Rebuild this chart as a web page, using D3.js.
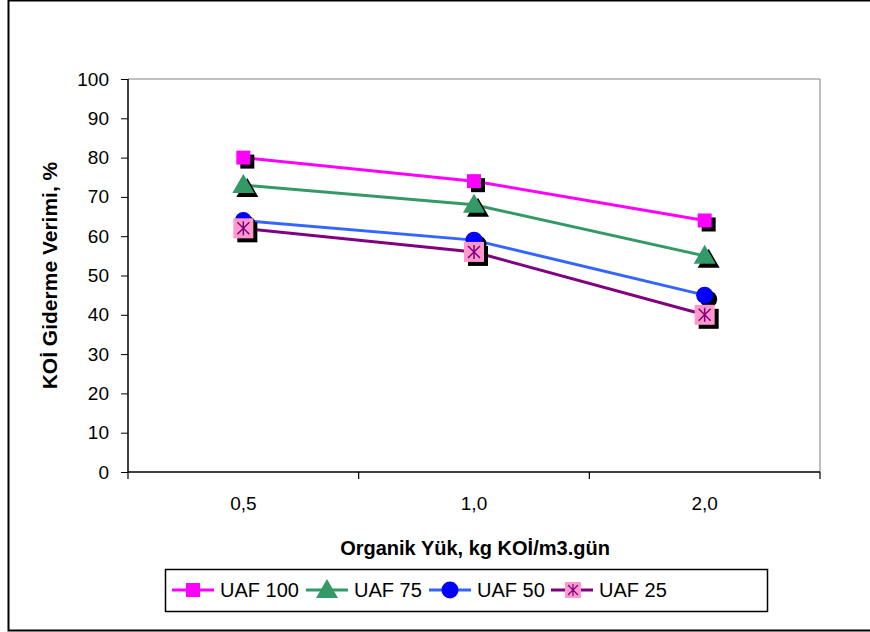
<!DOCTYPE html>
<html>
<head>
<meta charset="utf-8">
<script src="https://cdn.jsdelivr.net/npm/d3@7"></script>
<style>
body { margin:0; background:#fff; }
text { font-family: Arial, "Liberation Sans", sans-serif; }
</style>
</head>
<body>
<script>
var categories = ["0,5", "1,0", "2,0"];
var yTicks = [0, 10, 20, 30, 40, 50, 60, 70, 80, 90, 100];
var seriesNames = ["UAF 100", "UAF 75", "UAF 50", "UAF 25"];
var uaf100 = [80, 74, 64];
var uaf75 = [73, 68, 55];
var uaf50 = [64, 59, 45];
var uaf25 = [62, 56, 40];

var seriesVals = [uaf100, uaf75, uaf50, uaf25];
var colors = ["#ff00ff", "#339966", "#3366ff", "#800080"];
var markerFill = ["#ff00ff", "#339966", "#0000ff", "#ff99cc"];
var shapes = ["square", "triangle", "circle", "star"];

var svg = d3.select("body").append("svg").attr("width", 870).attr("height", 632);

// outer frame
svg.append("rect").attr("x", 8.5).attr("y", 0.5).attr("width", 880).attr("height", 630)
 .attr("fill", "#fff").attr("stroke", "#000").attr("stroke-width", 2);

var pLeft = 128, pRight = 820, pTop = 79, pBottom = 472;

var x = d3.scaleBand().domain(categories).range([pLeft, pRight]);
var y = d3.scaleLinear().domain([0, 100]).range([pBottom, pTop]);

// plot area border (grey, top and right)
svg.append("path").attr("d", "M" + pLeft + "," + pTop + "H" + pRight + "V" + pBottom)
 .attr("fill", "none").attr("stroke", "#808080").attr("stroke-width", 1);

// y axis
var yAxis = svg.append("g").attr("transform", "translate(" + pLeft + ",0)")
 .call(d3.axisLeft(y).tickValues(yTicks).tickSize(7).tickPadding(12));
yAxis.attr("font-size", 19).attr("font-family", "Arial, 'Liberation Sans', sans-serif");
yAxis.select(".domain").attr("stroke", "#000").attr("stroke-width", 1.5).attr("d", "M0," + pTop + "V" + pBottom);
yAxis.selectAll(".tick line").attr("stroke", "#000");
yAxis.selectAll("text").attr("fill", "#000");

// x axis
var xAxis = svg.append("g").attr("transform", "translate(0," + pBottom + ")")
 .call(d3.axisBottom(x).tickSize(0).tickPadding(25));
xAxis.attr("font-size", 19).attr("font-family", "Arial, 'Liberation Sans', sans-serif");
xAxis.select(".domain").attr("stroke", "#000").attr("stroke-width", 1.5).attr("d", "M" + pLeft + ",0H" + pRight);
xAxis.selectAll("text").attr("fill", "#000");
// category boundary ticks
var bounds = categories.map(function(c) { return x(c); }).concat([pRight]);
xAxis.selectAll(".bt").data(bounds).enter().append("line")
 .attr("x1", function(d) { return d; }).attr("x2", function(d) { return d; })
 .attr("y1", 0).attr("y2", 7).attr("stroke", "#000").attr("stroke-width", 1.2);

// axis titles
svg.append("text").attr("transform", "translate(57," + ((pTop + pBottom) / 2) + ") rotate(-90)")
 .attr("text-anchor", "middle").attr("font-size", 21).attr("font-weight", "bold").text("KOİ Giderme Verimi, %");
svg.append("text").attr("x", 475).attr("y", 555)
 .attr("text-anchor", "middle").attr("font-size", 20).attr("font-weight", "bold").text("Organik Yük, kg KOİ/m3.gün");

function cx(i) { return x(categories[i]) + x.bandwidth() / 2; }

function drawMarker(g, shape, px, py, k, shadow) {
 var fill = shadow ? "#000" : markerFill[k];
 if (shape == "square") {
  g.append("rect").attr("x", px - 7).attr("y", py - 7).attr("width", 14).attr("height", 14).attr("fill", fill);
 } else if (shape == "triangle") {
  g.append("path").attr("d", "M" + px + "," + (py - 11) + "L" + (px + 11) + "," + (py + 8) + "L" + (px - 11) + "," + (py + 8) + "Z").attr("fill", fill);
 } else if (shape == "circle") {
  g.append("circle").attr("cx", px).attr("cy", py).attr("r", 8.5).attr("fill", fill);
 } else {
  g.append("rect").attr("x", px - 10).attr("y", py - 10).attr("width", 20).attr("height", 20).attr("fill", fill);
  if (!shadow) {
   var s = 6;
   g.append("path").attr("d",
    "M" + (px - s) + "," + (py - s) + "L" + (px + s) + "," + (py + s) +
    "M" + (px + s) + "," + (py - s) + "L" + (px - s) + "," + (py + s) +
    "M" + px + "," + (py - s - 1) + "L" + px + "," + (py + s + 1))
    .attr("stroke", colors[k]).attr("stroke-width", 1.5).attr("fill", "none");
  }
 }
}

var line = d3.line().x(function(d, i) { return cx(i); }).y(function(d) { return y(d); });

// draw series in order (last drawn on top)
seriesVals.forEach(function(vals, k) {
 var g = svg.append("g");
 g.append("path").datum(vals).attr("d", line).attr("fill", "none")
  .attr("stroke", colors[k]).attr("stroke-width", 3);
 vals.forEach(function(v, i) {
  drawMarker(g, shapes[k], cx(i) + 4, y(v) + 4, k, true);
 });
 vals.forEach(function(v, i) {
  drawMarker(g, shapes[k], cx(i), y(v), k, false);
 });
});

// legend
var leg = svg.append("g");
leg.append("rect").attr("x", 165.5).attr("y", 569.5).attr("width", 602).attr("height", 42)
 .attr("fill", "#fff").attr("stroke", "#000").attr("stroke-width", 1.5);
var legX = [172, 306, 429, 551];
seriesNames.forEach(function(name, k) {
 var lx = legX[k], ly = 590;
 leg.append("line").attr("x1", lx).attr("x2", lx + 42).attr("y1", ly).attr("y2", ly)
  .attr("stroke", colors[k]).attr("stroke-width", 3);
 var mg = leg.append("g");
 if (shapes[k] == "star") {
  mg.append("rect").attr("x", lx + 14).attr("y", ly - 8).attr("width", 16).attr("height", 16).attr("fill", markerFill[k]);
  mg.append("path").attr("d",
   "M" + (lx + 17) + "," + (ly - 5) + "L" + (lx + 27) + "," + (ly + 5) +
   "M" + (lx + 27) + "," + (ly - 5) + "L" + (lx + 17) + "," + (ly + 5) +
   "M" + (lx + 22) + "," + (ly - 6) + "L" + (lx + 22) + "," + (ly + 6))
   .attr("stroke", colors[k]).attr("stroke-width", 1.2);
 } else {
  drawMarker(mg, shapes[k], lx + 21, ly, k, false);
 }
 leg.append("text").attr("x", lx + 48).attr("y", ly + 7).attr("font-size", 20).text(name);
});
</script>
</body>
</html>
